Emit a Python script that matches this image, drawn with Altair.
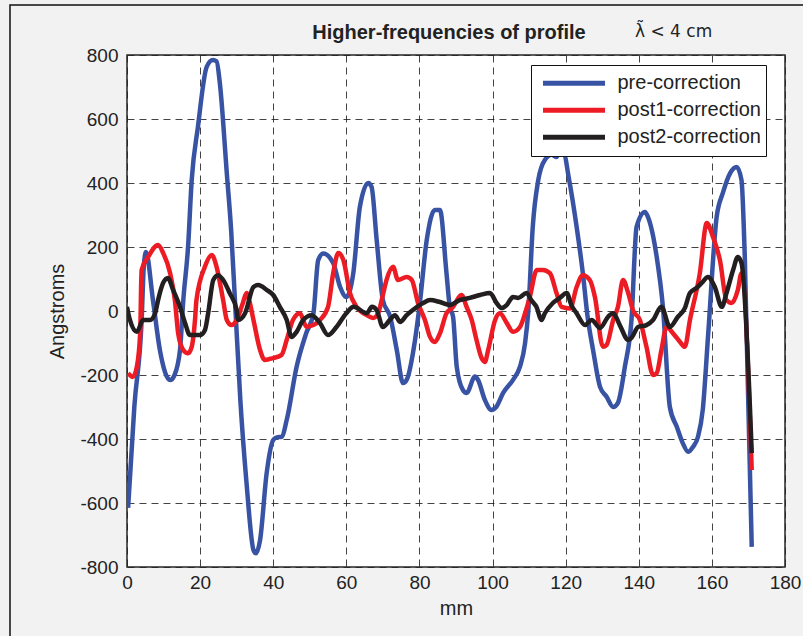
import altair as alt
import pandas as pd

# ---------------- data ----------------
series_names = ["pre-correction", "post1-correction", "post2-correction"]
series_colors = ["#3953a4", "#ed1c24", "#231f20"]

pre_x = [0.3, 2, 4, 4.6, 5.2, 7.1, 9, 11.8, 13, 14.5, 15.4, 16.7, 17.7, 19.4, 21.8, 23.5, 24.5,
         25.4, 27.3, 28.5, 29.5, 31, 32.7, 34.6, 35.3, 36.4, 38.2, 40, 41, 42.3, 43.7, 46.4, 49,
         51, 52.3, 53.7, 56.4, 58.3, 60, 61.9, 63.7, 66, 66.9, 68.3, 70, 72, 73.8, 75.5, 76.5,
         78.8, 80, 82, 84.2, 85.6, 87.4, 88.3, 89.2, 90.2, 91.9, 92.9, 95.2, 96, 97.9, 99.7, 101,
         102.9, 105.6, 107.5, 108.9, 109.8, 111, 112.5, 114.3, 116.2, 117.5, 118.4, 119.5, 120.8,
         123, 124.7, 126, 127.5, 129.4, 131.2, 133, 134.3, 136.2, 138, 139.4, 141.7, 142.5, 144.9,
         146.6, 148.5, 150.4, 152, 153.5, 154.8, 156.2, 157.5, 159, 161.3, 163, 165, 166.8, 168.1,
         169, 170.9]
pre_y = [-615, -300, -30, 140, 184, 34, -122, -216, -200, -122, 34, 200, 409, 575, 763, 784, 780,
         712, 431, 250, 40, -278, -538, -747, -757, -716, -507, -403, -395, -393, -340, -174, -70,
         -7, 159, 180, 150, 75, 44, 118, 325, 400, 388, 222, 34, -18, -122, -225, -215,
         -90, 13, 222, 316, 316, 118, 13, -18, -174, -247, -256, -205, -215, -278, -309, -300,
         -256, -215, -174, -100, 3, 263, 409, 472, 488, 481, 500, 495, 420,
         263, 118, -18, -122, -237, -268, -300, -287, -174, -28, 263, 309, 294, 169,
         13, -300, -362, -412, -440, -425, -393, -309, -70, 294, 369, 431, 450, 409,
         169, -737]

post1_x = [0.3, 1.6, 2.7, 3.6, 4, 5.8, 8.5, 9.9, 11.8, 13.1, 14, 15.4, 16.7, 17.7, 18.6, 19, 21.3,
           23.2, 24.5, 26.3, 27.3, 28.6, 30, 31.7, 32.7, 33.5, 34.6, 36.4, 37.7, 40, 42.3, 43.7,
           45.4, 47.3, 49.1, 51, 52.8, 55, 56.4, 57.8, 59.2, 61, 62.8, 65.6, 67.3, 68.7, 70, 71,
           72.8, 74.1, 76.5, 77.9, 79.6, 81.5, 82.9, 84.2, 85.6, 87.4, 89, 91.5, 92.9, 94.3, 95.6,
           97, 97.9, 98.8, 100.7, 102, 103.9, 105.6, 107.5, 108.9, 110.2, 112.1, 113.8, 115.7,
           117.5, 118.9, 121.2, 123, 124.7, 126.6, 128, 130.2, 131.2, 133, 134.3, 135.7, 137,
           138.5, 140.3, 142.1, 143.9, 144.9, 146.2, 147.6, 149.4, 151.3, 152.6, 154, 156.7, 158.6,
           160.3, 162.2, 164, 165.4, 167.1, 168.1, 170.9]
post1_y = [-194, -206, -174, -70, 128, 169, 206, 181, 118, 34, -70, -122, -132, -112, -28, 34, 138,
           175, 138, 34, -28, -44, -28, 25, 56, 30, -28, -122, -153, -147, -137, -90,
           -28, -7, -49, -44, -28, 13, 118, 181, 159, 56, 13, -13, -22, -7, 50, 97,
           138, 97, 106, 97, 25, -28, -81, -97, -70, -7, 10, 50, 13, -28, -90,
           -147, -159, -122, -28, -7, -38, -65, -50, -7, 44, 128, 128, 118,
           56, 13, 8, 75, 112, 97, 44, -112, -106, -28, 13, 97, 60,
           0, -28, -112, -200, -194, -122, -50, -70, -97, -112, -28, 118, 275,
           231, 159, 34, 25, 66, 118, -497]

post2_x = [0, 0.8, 2.7, 4.4, 6.3, 7.7, 8.5, 9.9, 11.2, 12.6, 14.5, 15.9, 17.2, 20, 21.3, 22.2, 23.6,
           24.9, 26.3, 28.1, 30, 30.4, 32.3, 34.6, 35.9, 38.2, 40, 41.8, 43.7, 45, 46.4, 48.2, 50.5,
           52.8, 55, 57.3, 60, 62, 65.6, 67, 68.3, 70, 71.9, 73.3, 74.7, 76.5, 78.2, 81, 82.9, 85.6,
           88.3, 91, 93.8, 96.6, 99.3, 101.1, 102.5, 103.9, 105.6, 107, 109.3, 110.6, 112, 113.4,
           114.3, 116.5, 118.4, 120.3, 121.5, 123, 125.3, 127.1, 129.4, 131.6, 133, 134.8, 137.1,
           138, 139.8, 142.1, 143.9, 146.2, 148.5, 150.7, 152.6, 154, 155.8, 157.5, 158.9, 160.8,
           162.7, 164, 165.8, 167.1, 168.1, 170.9]
post2_y = [13, -28, -65, -28, -28, -7, 34, 88, 103, 66, 13, -38, -75, -75, -60, -7, 97,
           112, 97, 56, 3, -28, -7, 75, 81, 66, 50, 13, -28, -81, -65, -28, -13,
           -38, -75, -50, -7, 13, -7, 13, 3, -50, -28, -13, -34, -13, 3, 25, 34, 28,
           19, 34, 41, 50, 56, 25, 9, 19, 44, 41, 56, 34, 13, -28,
           -7, 25, 41, 56, 20, -7, -44, -28, -53, -18, -7, -44, -90,
           -84, -50, -44, -28, 13, -50, -18, 9, 56, 72, 91, 106, 75,
           13, 56, 128, 169, 150, -444]

x_ticks = list(range(0, 181, 20))
y_ticks = list(range(-800, 801, 200))

title_text = "Higher-frequencies of profile"
note_text = "\u03bb\u0303 < 4 cm"

# ---------------- build table ----------------
frames = []
for name, xs, ys in [(series_names[0], pre_x, pre_y),
                     (series_names[1], post1_x, post1_y),
                     (series_names[2], post2_x, post2_y)]:
    frames.append(pd.DataFrame({"mm": xs, "val": ys, "series": name}))
df = pd.concat(frames, ignore_index=True)

FONT = "Liberation Sans, Arial, Helvetica, sans-serif"

lines = alt.Chart(df).mark_line(strokeWidth=4.5, clip=True, interpolate="monotone",
                                strokeJoin="round", strokeCap="butt").encode(
    x=alt.X("mm:Q", title="mm",
            scale=alt.Scale(domain=[0, 180], nice=False, zero=False),
            axis=alt.Axis(values=x_ticks, labelFlush=False, labelOverlap=False,
                          labelPadding=6, titlePadding=6, labelExpr="'' + datum.value")),
    y=alt.Y("val:Q", title="Angstroms",
            scale=alt.Scale(domain=[-800, 800], nice=False),
            axis=alt.Axis(values=y_ticks, labelFlush=False, labelOverlap=False,
                          labelPadding=9, titlePadding=12, labelExpr="'' + datum.value")),
    color=alt.Color("series:N",
                    scale=alt.Scale(domain=series_names, range=series_colors),
                    legend=alt.Legend(orient="none", legendX=404, legendY=10, title=None,
                                      symbolType="stroke", symbolSize=3844,
                                      symbolStrokeWidth=5, symbolOpacity=1,
                                      clipHeight=26.5, rowPadding=0,
                                      labelFontSize=20, labelFont=FONT, labelColor="#222",
                                      labelOffset=10, padding=5, symbolOffset=4.5,
                                      strokeColor="#111", fillColor="white",
                                      cornerRadius=0, labelLimit=300)),
    order=alt.Order("mm:Q"),
)

frame = alt.Chart(alt.Data(values=[{"k": 1}])).mark_rect(
    fillOpacity=0, stroke="#111", strokeWidth=1.5
).encode(x=alt.value(-117), x2=alt.value(720), y=alt.value(-50), y2=alt.value(620))

title = alt.Chart(alt.Data(values=[{"k": 1}])).mark_text(
    text=title_text, fontSize=20, fontWeight="bold", font=FONT, color="#222",
    align="center", baseline="alphabetic"
).encode(x=alt.value(322), y=alt.value(-16))

note = alt.Chart(alt.Data(values=[{"k": 1}])).mark_text(
    text=note_text, fontSize=17, font="DejaVu Sans, Liberation Sans, sans-serif",
    color="#222", align="left", baseline="alphabetic"
).encode(x=alt.value(508), y=alt.value(-18))

chart = alt.layer(frame, lines, title, note).properties(
    width=658, height=512,
    autosize=alt.AutoSizeParams(type="none"),
    padding={"left": 127, "top": 55, "right": 18, "bottom": 69},
    background="#f2f2f2",
).configure_view(
    fill="white", stroke="#262626", strokeWidth=1.5
).configure_axis(
    grid=True, gridColor="#222", gridDash=[7, 5], gridWidth=1, gridOpacity=0.85,
    domain=False, ticks=False,
    labelFontSize=19, labelFont=FONT, labelColor="#222",
    titleFontSize=20, titleFont=FONT, titleFontWeight="normal", titleColor="#222",
)

chart.save("out.html", embed_options={"renderer": "svg", "actions": False})
